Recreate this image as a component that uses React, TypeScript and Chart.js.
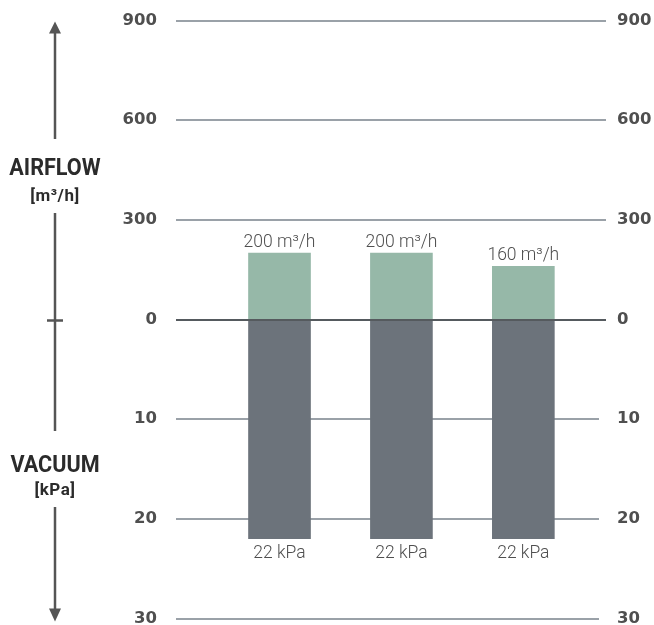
import { useEffect, useRef } from 'react';
import { Chart, registerables } from 'chart.js';

Chart.register(...registerables);

const categories = ['Unit 1', 'Unit 2', 'Unit 3'];
const airflow = [200, 200, 160];
const vacuum = [22, 22, 22];
const airflowTicks = [0, 300, 600, 900];
const vacuumTicks = [0, 10, 20, 30];
const airflowUnit = 'm³/h';
const vacuumUnit = 'kPa';
const airflowTitle = 'AIRFLOW';
const vacuumTitle = 'VACUUM';

const GREEN = '#96B8A8';
const DARK = '#6C737B';
const GRID = '#9AA1A8';
const ZERO = '#555A5E';
const TEXT = '#4F4F4F';

const tickLabel = (v: number) => (v >= 0 ? String(airflowTicks[v] ?? '') : String(vacuumTicks[-v] ?? ''));

const gridPlugin = {
  id: 'customGrid',
  beforeDatasetsDraw(chart: any) {
    const { ctx, chartArea } = chart;
    const y = chart.scales.y;
    ctx.save();
    y.ticks.forEach((t: any) => {
      if (t.value === 0) return;
      const py = Math.round(y.getPixelForValue(t.value));
      ctx.strokeStyle = GRID;
      ctx.lineWidth = 2;
      ctx.beginPath();
      ctx.moveTo(chartArea.left, py);
      ctx.lineTo(t.value < 0 ? chartArea.right - 7 : chartArea.right, py);
      ctx.stroke();
    });
    ctx.restore();
  },
  afterDatasetsDraw(chart: any) {
    const { ctx, chartArea } = chart;
    const y = chart.scales.y;
    const py = Math.round(y.getPixelForValue(0));
    ctx.save();
    ctx.strokeStyle = ZERO;
    ctx.lineWidth = 2;
    ctx.beginPath();
    ctx.moveTo(chartArea.left, py);
    ctx.lineTo(chartArea.right, py);
    ctx.stroke();

    ctx.fillStyle = TEXT;
    ctx.font = '300 17.5px Roboto';
    ctx.textAlign = 'center';
    ctx.textBaseline = 'alphabetic';
    const m0 = chart.getDatasetMeta(0);
    m0.data.forEach((bar: any, i: number) => {
      ctx.fillText(`${airflow[i]} ${airflowUnit}`, bar.x, bar.y - 6);
    });
    const m1 = chart.getDatasetMeta(1);
    m1.data.forEach((bar: any, i: number) => {
      ctx.fillText(`${vacuum[i]} ${vacuumUnit}`, bar.x, bar.y + 19);
    });
    ctx.restore();
  },
};

const sidePlugin = {
  id: 'sideArrows',
  afterDraw(chart: any) {
    const { ctx } = chart;
    const y = chart.scales.y;
    const top = y.getPixelForValue(3);
    const zero = y.getPixelForValue(0);
    const bottom = y.getPixelForValue(-3);
    const x = 55;
    ctx.save();
    ctx.strokeStyle = '#555555';
    ctx.fillStyle = '#555555';
    ctx.lineWidth = 2.5;
    const line = (a: number, b: number) => {
      ctx.beginPath();
      ctx.moveTo(x, a);
      ctx.lineTo(x, b);
      ctx.stroke();
    };
    line(top + 10, 139);
    line(213, 431);
    line(507, bottom - 6);
    ctx.beginPath();
    ctx.moveTo(x, top + 1);
    ctx.lineTo(x - 6, top + 13);
    ctx.lineTo(x + 6, top + 13);
    ctx.closePath();
    ctx.fill();
    ctx.beginPath();
    ctx.moveTo(x, bottom + 3);
    ctx.lineTo(x - 6, bottom - 10);
    ctx.lineTo(x + 6, bottom - 10);
    ctx.closePath();
    ctx.fill();
    ctx.beginPath();
    ctx.moveTo(x - 8, zero + 1);
    ctx.lineTo(x + 8, zero + 1);
    ctx.stroke();

    const title = (text: string, baseline: number) => {
      ctx.save();
      ctx.translate(x, baseline);
      ctx.scale(0.9, 1);
      ctx.font = 'bold 24px Roboto';
      ctx.fillStyle = '#2B2B2B';
      ctx.textAlign = 'center';
      ctx.textBaseline = 'alphabetic';
      ctx.fillText(text, 0, 0);
      ctx.restore();
    };
    const unit = (text: string, baseline: number) => {
      ctx.save();
      ctx.font = 'bold 17px Roboto';
      (ctx as any).letterSpacing = '0.5px';
      ctx.fillStyle = '#2B2B2B';
      ctx.textAlign = 'center';
      ctx.textBaseline = 'alphabetic';
      ctx.fillText(text, x, baseline);
      ctx.restore();
    };
    title(airflowTitle, 175);
    unit(`[${airflowUnit}]`, 201);
    title(vacuumTitle, 472);
    unit(`[${vacuumUnit}]`, 495);
    ctx.restore();
  },
};

export default function App() {
  const ref = useRef<HTMLCanvasElement | null>(null);
  useEffect(() => {
    if (!ref.current) return;
    const tickFont = { family: "'DejaVu Sans'", size: 16.5, weight: 'bold' as const };
    const chart = new Chart(ref.current, {
      type: 'bar',
      data: {
        labels: categories,
        datasets: [
          {
            label: 'Airflow',
            data: airflow.map((v, i) => ({ x: i, y: v / 300 })),
            backgroundColor: GREEN,
            barThickness: 62,
            grouped: false,
          },
          {
            label: 'Vacuum',
            data: vacuum.map((v, i) => ({ x: i, y: -v / 10 })),
            backgroundColor: DARK,
            barThickness: 62,
            grouped: false,
          },
        ],
      } as any,
      options: {
        animation: false,
        responsive: true,
        maintainAspectRatio: false,
        events: [],
        layout: { padding: { top: 20.5, bottom: 6.5, left: 0, right: 0 } },
        plugins: { legend: { display: false }, tooltip: { enabled: false } },
        scales: {
          x: {
            type: 'linear',
            display: false,
            offset: false,
            min: -0.849,
            max: 2.678,
          },
          y: {
            position: 'left',
            min: -3,
            max: 3,
            grid: { display: false, drawTicks: false },
            border: { display: false },
            ticks: { stepSize: 1, padding: 19, color: TEXT, font: tickFont, callback: (v: any) => tickLabel(Number(v)) },
            afterFit: (s: any) => {
              s.width = 176;
              s.paddingTop = 0;
              s.paddingBottom = 0;
            },
          },
          y2: {
            position: 'right',
            min: -3,
            max: 3,
            grid: { display: false, drawTicks: false },
            border: { display: false },
            ticks: { stepSize: 1, padding: 11, color: TEXT, font: tickFont, callback: (v: any) => tickLabel(Number(v)) },
            afterFit: (s: any) => {
              s.width = 48;
              s.paddingTop = 0;
              s.paddingBottom = 0;
            },
          },
        } as any,
      },
      plugins: [gridPlugin, sidePlugin],
    });
    return () => chart.destroy();
  }, []);
  return (
    <div style={{ position: 'fixed', left: 0, top: 0, width: 654, height: 625, background: '#fff' }}>
      <canvas ref={ref} />
    </div>
  );
}
